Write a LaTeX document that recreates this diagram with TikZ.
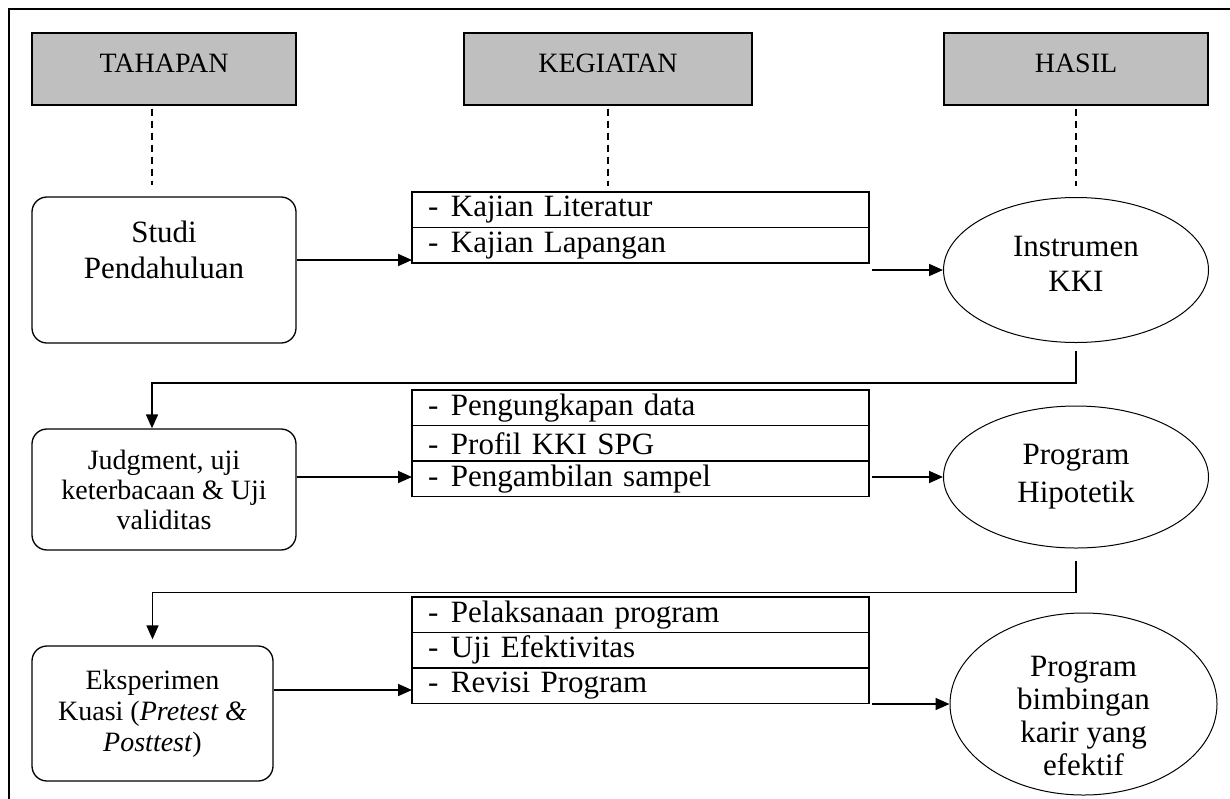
\documentclass[tikz,border=0pt]{standalone}
\usepackage{fontspec}
\setmainfont{Liberation Serif}
\usetikzlibrary{arrows.meta, positioning, shapes.geometric}
\definecolor{headgray}{RGB}{191,191,191}
\newcommand{\dashitem}[1]{\makebox[11.5pt][l]{-}#1}

\begin{document}
\begin{tikzpicture}[
  x=0.5pt, y=-0.5pt,
  headbox/.style={rectangle, draw, line width=0.6pt, fill=headgray, minimum width=132pt, minimum height=36pt, text depth=6pt, font=\fontsize{14}{16}\selectfont},
  stagebox/.style={rectangle, draw, line width=0.65pt, rounded corners=7.5pt, minimum width=132pt, align=center},
  rowbox/.style={rectangle, draw, line width=0.85pt, outer sep=0pt, minimum width=228.5pt, minimum height=17.75pt, inner xsep=8pt, inner ysep=0pt, text width=212.5pt, align=left},
  resultnode/.style={ellipse, draw, line width=0.5pt, inner sep=0pt, align=center},
  arrow/.style={-{Triangle[length=7pt, width=6pt]}, line width=0.85pt},
  guide/.style={dash pattern=on 3.5pt off 2.5pt, line width=0.7pt},
  every node/.style={font=\fontsize{15.5}{17.5}\selectfont}
]
\useasboundingbox (0,0) rectangle (1230,798);

% frame
\draw[line width=0.6pt] (9,800) -- (9,9) -- (1235,9);

% column heads
\node[headbox] (headT) at (164,69) {TAHAPAN};
\node[headbox, minimum width=144pt] (headK) at (608,69) {KEGIATAN};
\node[headbox] (headH) at (1076,69) {HASIL};

% stages
\node[stagebox, minimum height=73pt, text depth=20pt, font=\fontsize{15.5}{18}\selectfont] (studi) at (164,270) {Studi\\Pendahuluan};
\node[stagebox, minimum height=60.5pt, font=\fontsize{14}{15}\selectfont] (judg) at (164,489.5) {Judgment, uji\\keterbacaan \& Uji\\validitas};
\node[stagebox, minimum width=120.5pt, minimum height=67.5pt, font=\fontsize{14}{15.5}\selectfont] (eksp) at (152.5,713.5) {Eksperimen\\Kuasi (\textit{Pretest \&}\\\textit{Posttest})};

% activities
\node[rowbox, anchor=north west] (k1a) at (412,192) {\dashitem{Kajian Literatur}};
\node[rowbox, below=0pt of k1a] (k1b) {\dashitem{Kajian Lapangan}};

\node[rowbox, anchor=north west] (k2a) at (412,390) {\dashitem{Pengungkapan data}};
\node[rowbox, below=0pt of k2a] (k2b) {\dashitem{Profil KKI SPG}};
\node[rowbox, below=0pt of k2b] (k2c) {\dashitem{Pengambilan sampel}};

\node[rowbox, anchor=north west] (k3a) at (412,597) {\dashitem{Pelaksanaan program}};
\node[rowbox, below=0pt of k3a] (k3b) {\dashitem{Uji Efektivitas}};
\node[rowbox, below=0pt of k3b] (k3c) {\dashitem{Revisi Program}};

% results
\node[resultnode, minimum width=132.5pt, minimum height=72.5pt, text depth=6pt] (res1) at (1076,270) {Instrumen\\KKI};
\node[resultnode, minimum width=132.5pt, minimum height=71pt, font=\fontsize{15.5}{19}\selectfont] (res2) at (1076,477) {Program\\Hipotetik};
\node[resultnode, minimum width=133.5pt, minimum height=91pt, text height=72pt, inner ysep=-8pt, font=\fontsize{15.5}{16.5}\selectfont] (res3) at (1083.5,704) {Program\\bimbingan\\karir yang\\efektif};

% dashed guides
\draw[guide, shorten <=1.5pt, shorten >=5.5pt] ([xshift=-6pt]headT.south) -- ([xshift=-6pt]studi.north);
\draw[guide, shorten <=1.5pt, shorten >=3pt] (headK.south) -- (headK.south |- k1a.north);
\draw[guide, shorten <=1.5pt, shorten >=5.5pt] (headH.south) -- (res1.north);

% stage -> activities -> result
\draw[arrow] ([yshift=5pt]studi.east) -- ([yshift=5pt]studi.east -| k1b.west);
\draw[arrow] ([yshift=6.25pt]judg.east) -- ([yshift=6.25pt]judg.east -| k2c.west);
\draw[arrow] ([yshift=11.75pt]eksp.east) -- ([yshift=11.75pt]eksp.east -| k3c.west);

\draw[arrow] ([xshift=1.5pt]k1b.east |- res1.west) -- (res1.west);
\draw[arrow] ([xshift=1.5pt]k2c.east |- res2.west) -- (res2.west);
\draw[arrow] ([xshift=1.5pt]k3c.east |- res3.west) -- (res3.west);

% back to next stage
\draw[arrow] ([yshift=-4pt]res1.south) -- ++(0,32) -| ([xshift=-6pt]judg.north);
\draw[arrow, shorten >=3pt] ([yshift=-6pt]res2.south) -- ++(0,32) -| (eksp.north);

\end{tikzpicture}
\end{document}
